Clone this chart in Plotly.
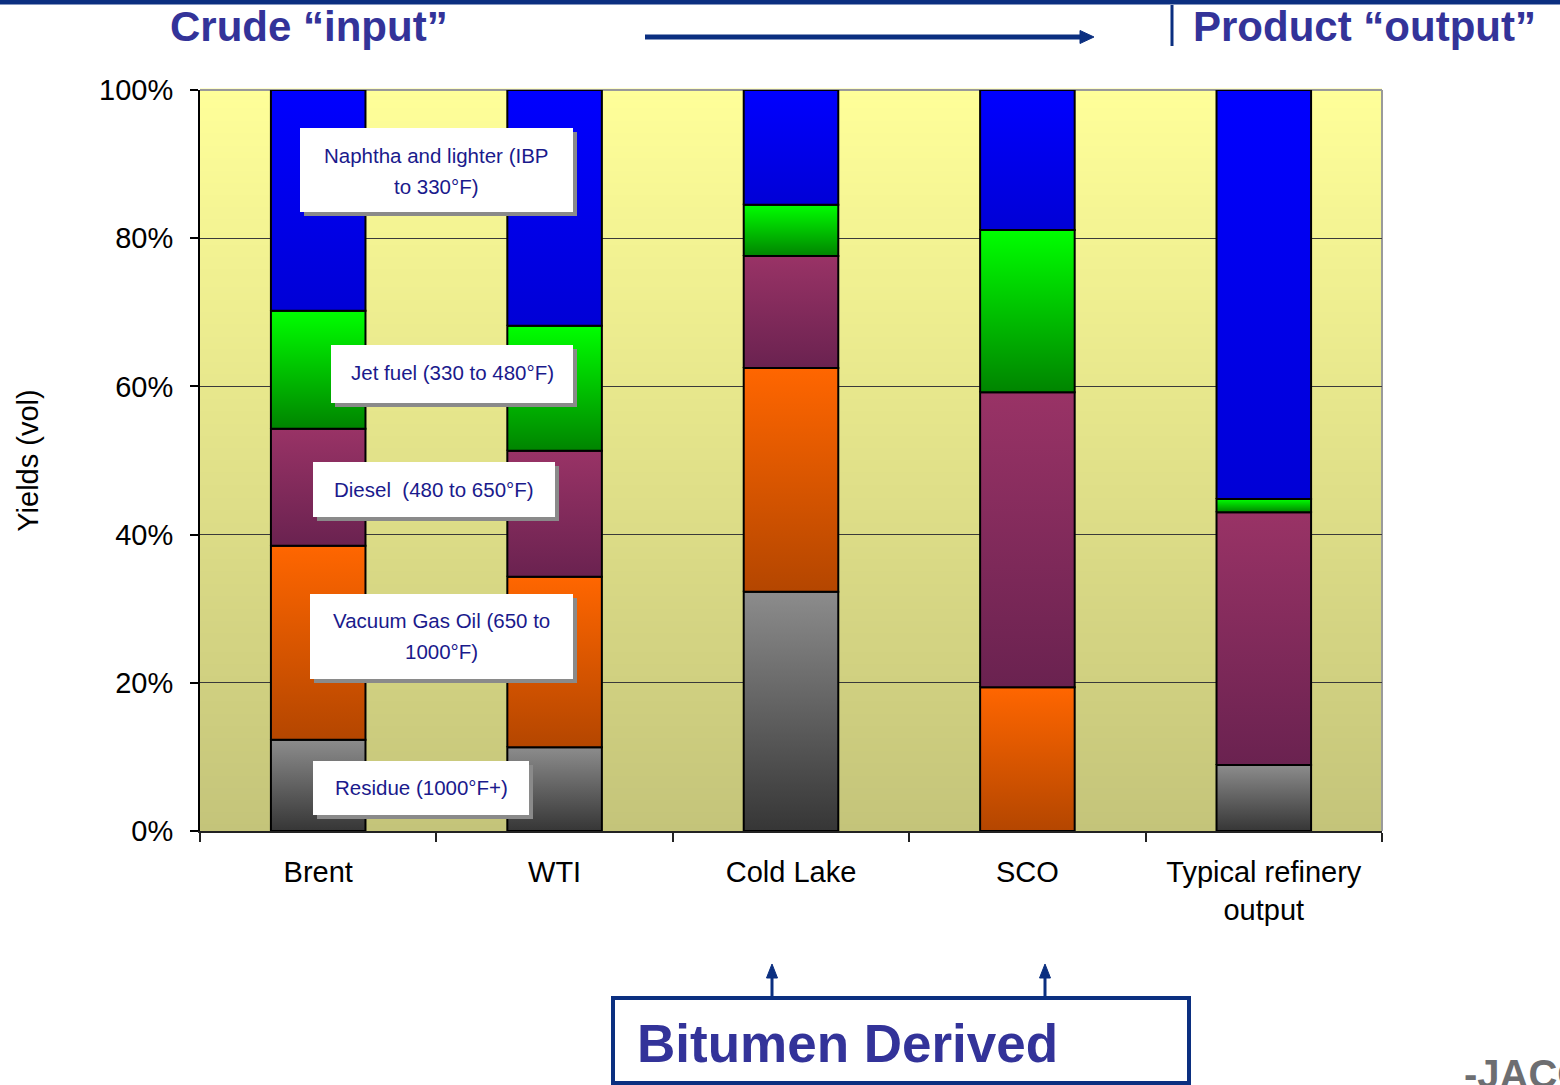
import plotly.graph_objects as go

# ---------------- data ----------------
categories = ["Brent", "WTI", "Cold Lake", "SCO", "Typical refinery<br>output"]
series_names = [
    "Residue (1000°F+)",
    "Vacuum Gas Oil (650 to 1000°F)",
    "Diesel (480 to 650°F)",
    "Jet fuel (330 to 480°F)",
    "Naphtha and lighter (IBP to 330°F)",
]
residue = [12.3, 11.3, 32.3, 0.0, 8.9]
vacuum_gas_oil = [26.2, 23.0, 30.2, 19.4, 0.0]
diesel = [15.8, 17.0, 15.1, 39.8, 34.1]
jet_fuel = [15.9, 16.9, 6.9, 21.9, 1.8]
naphtha = [29.8, 31.8, 15.5, 18.9, 55.2]
y_tick_vals = [0, 20, 40, 60, 80, 100]
y_tick_text = ["0%", "20%", "40%", "60%", "80%", "100%"]

series_values = [residue, vacuum_gas_oil, diesel, jet_fuel, naphtha]
# (dark bottom, light top) gradient colours per series
series_colors = [
    ("#363636", "#8c8c8c"),
    ("#b44600", "#ff6600"),
    ("#6a2250", "#993366"),
    ("#008400", "#00ff00"),
    ("#0000d6", "#0000ff"),
]

# ---------------- geometry helpers ----------------
W, H = 1560, 1085
L, R, T, B = 200, 1382, 90, 831


def px(x):
    return (x - L) / (R - L)


def py(y):
    return (B - y) / (B - T)


NAVY = "#0b2f80"
TITLE_BLUE = "#333399"
LABEL_BLUE = "#1a1a8c"
BAR_HALF = 0.2

fig = go.Figure()

# stacked bars drawn as gradient-filled rectangles on the numeric x scale
for s_idx, (name, vals) in enumerate(zip(series_names, series_values)):
    dark, light = series_colors[s_idx]
    for c_idx, v in enumerate(vals):
        if v <= 0:
            continue
        base = sum(series_values[k][c_idx] for k in range(s_idx))
        top = base + v
        xs = [c_idx - BAR_HALF, c_idx + BAR_HALF, c_idx + BAR_HALF, c_idx - BAR_HALF, c_idx - BAR_HALF]
        ys = [base, base, top, top, base]
        fig.add_trace(go.Scatter(
            x=xs, y=ys, mode="lines", fill="toself",
            fillgradient=dict(type="vertical", colorscale=[[0, dark], [1, light]]),
            line=dict(color="black", width=2),
            name=name, showlegend=False,
            hoveron="fills",
            text=f"{categories[c_idx].replace('<br>', ' ')}: {name} {v:.1f}%",
            hoverinfo="text",
        ))

shapes = []
# plot-area background gradient (below gridlines)
n_strip = 120
c_top = (255, 255, 153)
c_bot = (196, 196, 122)
for i in range(n_strip):
    f = (i + 0.5) / n_strip
    col = tuple(round(c_bot[k] + (c_top[k] - c_bot[k]) * f) for k in range(3))
    shapes.append(dict(type="rect", xref="paper", yref="paper",
                       x0=0, x1=1, y0=i / n_strip, y1=(i + 1) / n_strip + 0.002,
                       fillcolor="rgb(%d,%d,%d)" % col, line=dict(width=0), layer="below"))
# grey frame top/right
shapes.append(dict(type="line", xref="paper", yref="paper", x0=0, x1=1, y0=1, y1=1,
                   line=dict(color="#9a9a9a", width=2), layer="below"))
shapes.append(dict(type="line", xref="paper", yref="paper", x0=1, x1=1, y0=0, y1=1,
                   line=dict(color="#9a9a9a", width=2), layer="below"))

# header: top navy strip
shapes.append(dict(type="rect", xref="paper", yref="paper", x0=px(0), x1=px(W),
                   y0=py(4.5), y1=py(-2), fillcolor=NAVY, line=dict(width=0)))
# header arrow
shapes.append(dict(type="line", xref="paper", yref="paper", x0=px(645), x1=px(1082),
                   y0=py(37), y1=py(37), line=dict(color=NAVY, width=5)))
shapes.append(dict(type="path", xref="paper", yref="paper",
                   path="M %f %f L %f %f L %f %f Z" % (px(1080), py(30.5), px(1094), py(37), px(1080), py(43.5)),
                   fillcolor=NAVY, line=dict(color=NAVY, width=1)))
# header separator
shapes.append(dict(type="line", xref="paper", yref="paper", x0=px(1172), x1=px(1172),
                   y0=py(5), y1=py(46), line=dict(color=NAVY, width=3)))

# Bitumen Derived box & arrows
shapes.append(dict(type="rect", xref="paper", yref="paper", x0=px(613), x1=px(1189),
                   y0=py(1083), y1=py(998), line=dict(color=NAVY, width=4), fillcolor="white"))
for ax_px in (772, 1045):
    shapes.append(dict(type="line", xref="paper", yref="paper", x0=px(ax_px), x1=px(ax_px),
                       y0=py(997), y1=py(975), line=dict(color=NAVY, width=3)))
    shapes.append(dict(type="path", xref="paper", yref="paper",
                       path="M %f %f L %f %f L %f %f Z" % (px(ax_px - 5.5), py(978), px(ax_px), py(964), px(ax_px + 5.5), py(978)),
                       fillcolor=NAVY, line=dict(color=NAVY, width=1)))

# series label boxes: (x0, y0, x1, y1) in pixels, text lines with their centre y
label_boxes = [
    ((300, 128, 573, 212), [("Naphtha and lighter (IBP", 155), ("to 330°F)", 186)]),
    ((331, 345, 573, 403), [("Jet fuel (330 to 480°F)", 372)]),
    ((313, 462, 555, 517), [("Diesel  (480 to 650°F)", 489)]),
    ((310, 594, 573, 679), [("Vacuum Gas Oil (650 to", 620), ("1000°F)", 651)]),
    ((313, 761, 529, 815), [("Residue (1000°F+)", 787)]),
]
annotations = []
for (x0, y0, x1, y1), lines in label_boxes:
    shapes.append(dict(type="rect", xref="paper", yref="paper", x0=px(x0 + 4), x1=px(x1 + 4),
                       y0=py(y1 + 4), y1=py(y0 + 4), fillcolor="#8a8a8a", line=dict(width=0)))
    shapes.append(dict(type="rect", xref="paper", yref="paper", x0=px(x0), x1=px(x1),
                       y0=py(y1), y1=py(y0), fillcolor="white", line=dict(width=0)))
    for txt, ly in lines:
        annotations.append(dict(xref="paper", yref="paper", x=px((x0 + x1) / 2), y=py(ly),
                                xanchor="center", yanchor="middle", showarrow=False, align="center",
                                text=txt,
                                font=dict(family="Liberation Sans, Arial", size=20.5,
                                          color=LABEL_BLUE)))

# header texts
annotations.append(dict(xref="paper", yref="paper", x=px(168), y=py(26), xanchor="left", yanchor="middle",
                        showarrow=False, text="<b>Crude “input”</b>",
                        font=dict(family="Liberation Sans, Arial", size=42, color=TITLE_BLUE)))
annotations.append(dict(xref="paper", yref="paper", x=px(1191), y=py(26), xanchor="left", yanchor="middle",
                        showarrow=False, text="<b>Product “output”</b>",
                        font=dict(family="Liberation Sans, Arial", size=42, color=TITLE_BLUE)))
annotations.append(dict(xref="paper", yref="paper", x=px(635), y=py(1043), xanchor="left", yanchor="middle",
                        showarrow=False, text="<b>Bitumen Derived</b>",
                        font=dict(family="Liberation Sans, Arial", size=53, color=TITLE_BLUE)))
# logo fragment at bottom-right
annotations.append(dict(xref="paper", yref="paper", x=px(1462), y=py(1050), xanchor="left", yanchor="top",
                        showarrow=False, text="<b>-JACOBS</b>",
                        font=dict(family="Liberation Sans, Arial", size=40, color="#6d6e71")))

fig.update_layout(
    width=W, height=H,
    margin=dict(l=L, r=W - R, t=T, b=H - B),
    paper_bgcolor="white",
    plot_bgcolor="#e8e48c",
    showlegend=False,
    font=dict(family="Liberation Sans, Arial", color="black"),
    shapes=shapes,
    annotations=annotations,
    xaxis=dict(
        range=[-0.5, 4.5], tickmode="array", tickvals=list(range(len(categories))), ticktext=categories,
        ticks="", showgrid=False, zeroline=False, showline=True, linecolor="#222222", linewidth=2,
        tickfont=dict(size=29, color="black"), ticklabelstandoff=14,
        minor=dict(tickmode="array", tickvals=[i - 0.5 for i in range(len(categories) + 1)],
                   ticks="outside", ticklen=9, tickcolor="#222222", tickwidth=1.5, showgrid=False),
    ),
    yaxis=dict(
        range=[0, 100], tickmode="array", tickvals=y_tick_vals, ticktext=y_tick_text,
        ticks="outside", ticklen=8, tickcolor="black", tickwidth=1.5,
        showline=True, linecolor="black", linewidth=2, zeroline=False,
        showgrid=True, gridcolor="#3a3a3a", gridwidth=1.2,
        tickfont=dict(size=29, color="black"), ticklabelstandoff=11,
        title=dict(text="Yields (vol)", font=dict(size=29, color="black"), standoff=52),
    ),
)

fig.write_html("out.html", config={"displayModeBar": False},
               post_script="document.body.style.margin='0';document.body.style.padding='0';")
